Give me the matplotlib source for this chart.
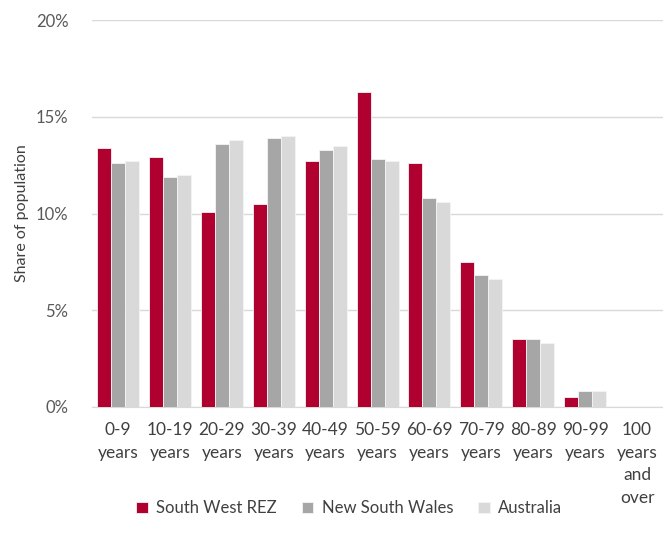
import numpy as np
import matplotlib.pyplot as plt
from matplotlib.ticker import PercentFormatter

plt.rcParams['font.family'] = ['Lato', 'DejaVu Sans']

# age groups and share of population (%)
age_groups = ['0-9\nyears', '10-19\nyears', '20-29\nyears', '30-39\nyears', '40-49\nyears',
              '50-59\nyears', '60-69\nyears', '70-79\nyears', '80-89\nyears', '90-99\nyears',
              '100\nyears\nand\nover']
south_west_rez = [13.4, 12.9, 10.1, 10.5, 12.7, 16.3, 12.6, 7.5, 3.5, 0.5, 0.0]
new_south_wales = [12.6, 11.9, 13.6, 13.9, 13.3, 12.8, 10.8, 6.8, 3.5, 0.8, 0.02]
australia = [12.7, 12.0, 13.8, 14.0, 13.5, 12.7, 10.6, 6.6, 3.3, 0.8, 0.02]

series = [('South West REZ', south_west_rez, '#B00030'),
          ('New South Wales', new_south_wales, '#A6A6A6'),
          ('Australia', australia, '#D9D9D9')]

fig = plt.figure(figsize=(6.63, 5.44), dpi=100)
ax = fig.add_axes([0.139, 0.252, 0.861, 0.711])

x = np.arange(len(age_groups))
w = 0.27
for i, (name, vals, col) in enumerate(series):
    ax.bar(x + (i - 1) * w, vals, width=w, color=col, edgecolor='#f4f4f4',
           linewidth=0.6, label=name, zorder=3)

ax.set_xlim(-0.5, len(age_groups) - 0.5)
ax.set_ylim(0, 20)
ax.set_yticks([0, 5, 10, 15, 20])
ax.yaxis.set_major_formatter(PercentFormatter(decimals=0))
ax.grid(axis='y', color='#D9D9D9', linewidth=1, zorder=0)
ax.set_xticks(x)
ax.set_xticklabels(age_groups, fontsize=12.5, color='#404040', va='top', linespacing=1.5)
ax.tick_params(axis='y', labelsize=12, colors='#595959', length=0, pad=17)
ax.tick_params(axis='x', length=0, pad=11)
for s in ['top', 'right', 'left']:
    ax.spines[s].set_visible(False)
ax.spines['bottom'].set_color('#D9D9D9')
ax.set_ylabel('Share of population', fontsize=11.5, color='#404040', labelpad=5)

ax.legend(loc='center', bbox_to_anchor=(0.45, -0.262), ncol=3, frameon=False,
          fontsize=12, handlelength=0.7, handleheight=0.7, columnspacing=1.5,
          handletextpad=0.5, labelcolor='#404040')

fig.savefig('out.png', dpi=100)
